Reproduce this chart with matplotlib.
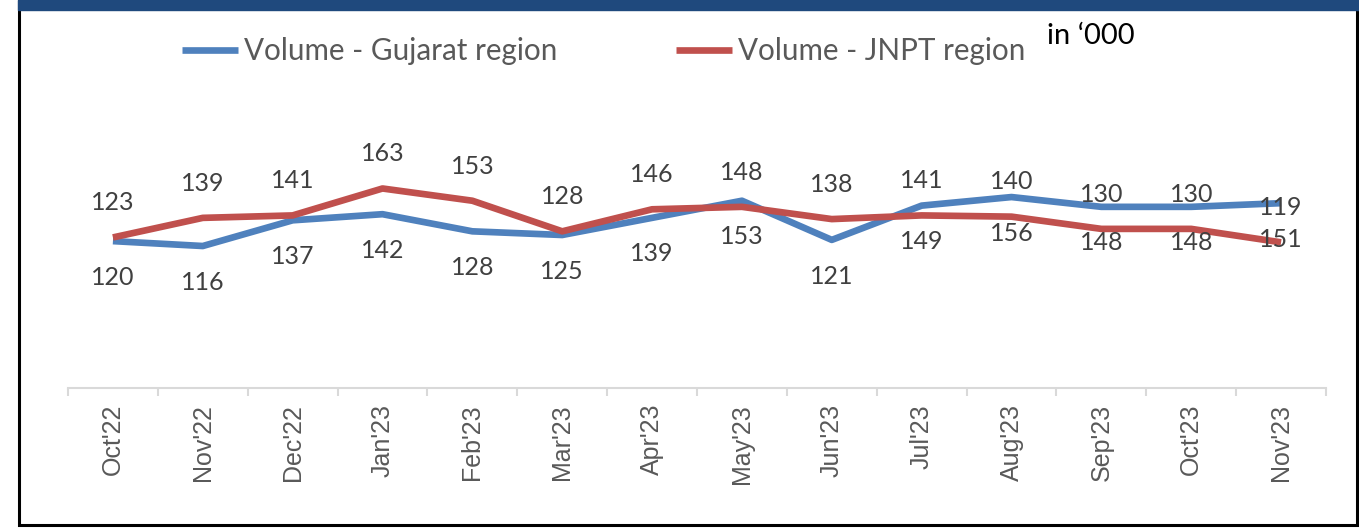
import matplotlib.pyplot as plt
from matplotlib.patches import Rectangle

months = ["Oct'22", "Nov'22", "Dec'22", "Jan'23", "Feb'23", "Mar'23", "Apr'23",
          "May'23", "Jun'23", "Jul'23", "Aug'23", "Sep'23", "Oct'23", "Nov'23"]
gujarat = [120, 116, 137, 142, 128, 125, 139, 153, 121, 149, 156, 148, 148, 151]
jnpt = [123, 139, 141, 163, 153, 128, 146, 148, 138, 141, 140, 130, 130, 119]

blue = '#4F81BD'
red = '#C0504D'

fig = plt.figure(figsize=(13.59, 5.28), dpi=100)
W, H = 1359, 528

# frame + top band
fig.patches.append(Rectangle((19 / W, 1 - 525 / H), (1357 - 19) / W, 525 / H,
                             transform=fig.transFigure, fill=False,
                             edgecolor='black', linewidth=2.2, zorder=0))
fig.patches.append(Rectangle((18 / W, 1 - 10 / H), 1, 10 / H,
                             transform=fig.transFigure, color='#1F497D', zorder=1))

ax = fig.add_axes([68 / W, 1 - 388 / H, 1258 / W, 306 / H])
x = list(range(len(months)))
ax.plot(x, gujarat, color=blue, lw=4.8, label='Volume - Gujarat region',
        solid_joinstyle='round', solid_capstyle='butt')
ax.plot(x, jnpt, color=red, lw=4.8, label='Volume - JNPT region',
        solid_joinstyle='round', solid_capstyle='butt')

lab_font = dict(fontsize=18, color='#404040', family='Lato', ha='center', va='center')
for xi, v in zip(x, jnpt):
    ax.annotate(str(v), (xi, v), xytext=(0, 25), textcoords='offset points', **lab_font)
for xi, v in zip(x, gujarat):
    ax.annotate(str(v), (xi, v), xytext=(0, -26), textcoords='offset points', **lab_font)

ax.set_xlim(-0.5, len(months) - 0.5)
ax.set_ylim(0, 250)
for s in ['top', 'right', 'left']:
    ax.spines[s].set_visible(False)
ax.spines['bottom'].set_color('#D9D9D9')
ax.spines['bottom'].set_linewidth(1.5)
ax.set_yticks([])

# category boundary ticks, labels centred
ax.set_xticks([i - 0.5 for i in range(len(months) + 1)])
ax.set_xticklabels([])
ax.tick_params(axis='x', length=6, width=1.5, color='#D9D9D9')
for xi, m in zip(x, months):
    ax.text(xi, -0.052, m, transform=ax.get_xaxis_transform(), rotation=90,
            ha='center', va='top', fontsize=18, color='#595959',
            family='Liberation Sans')

fig.legend(loc='center left', bbox_to_anchor=(182 / W, 1 - 51 / H), ncol=2,
           frameon=False, prop=dict(family='Lato', size=21.3),
           labelcolor='#595959', handlelength=1.9, handletextpad=0.2,
           columnspacing=4.0, borderpad=0, borderaxespad=0)

fig.text(1047 / W, 1 - 36 / H, 'in \u2018000', fontsize=21, family='Lato',
         color='black', ha='left', va='center')

fig.savefig('out.png', dpi=100)
